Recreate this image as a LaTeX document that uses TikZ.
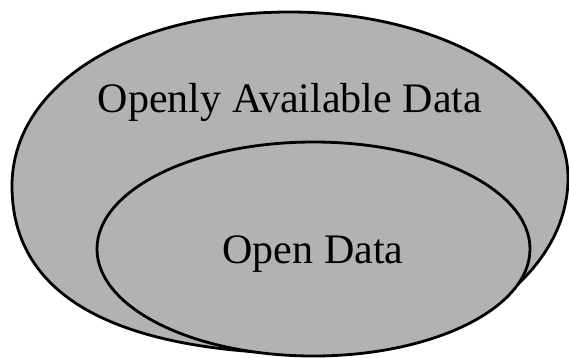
\documentclass[tikz,border=0pt]{standalone}
\usepackage{fontspec}
\setmainfont{Liberation Serif}
\tikzset{
  setarea/.style={line width=2.8pt, draw=black, fill=black!30},
  setlabel/.style={anchor=base, font=\fontsize{42}{48}\selectfont}
}
\begin{document}
\begin{tikzpicture}[x=1pt, y=-1pt]

\useasboundingbox (0, 0) rectangle (569, 357);

% outer set, a slightly egg-shaped ellipse
\draw[setarea] (290, 12)
  .. controls (443.5, 12) and (568, 86.3) .. (568, 178)
  .. controls (568, 275.2) and (457, 354) .. (320, 354)
  .. controls (116.7, 354) and (12, 296.9) .. (12, 186)
  .. controls (12, 85.1) and (128.8, 12) .. cycle;

% inner set
\draw[setarea] (313.5, 249) ellipse (216.5pt and 107pt);

\node[setlabel] (available) at (290, 112) {Openly Available Data};
\node[setlabel] (open) at (313, 263) {Open Data};

\end{tikzpicture}
\end{document}
